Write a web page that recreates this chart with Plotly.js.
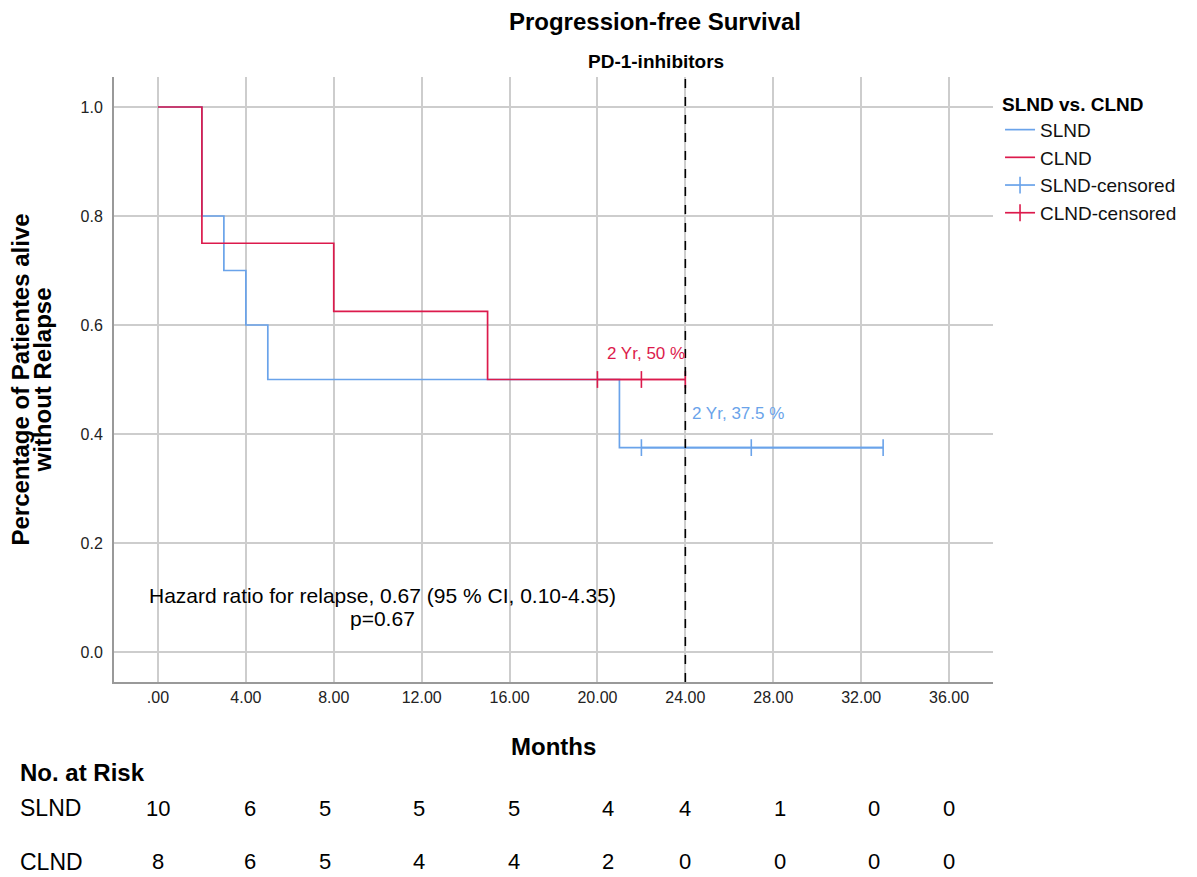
<!DOCTYPE html>
<html>
<head>
<meta charset="utf-8">
<script src="https://cdn.plot.ly/plotly-3.0.1.min.js"></script>
<style>html,body{margin:0;padding:0;background:#fff;}#chart{width:1197px;height:877px;}</style>
</head>
<body>
<div id="chart"></div>
<script>
// ---- data ----
const slndTime = [0, 2, 3, 4, 5, 21, 33];
const slndSurv = [1.0, 0.8, 0.7, 0.6, 0.5, 0.375, 0.375];
const clndTime = [0, 2, 8, 15, 24];
const clndSurv = [1.0, 0.75, 0.625, 0.5, 0.5];
const slndCensorTime = [22, 27, 33];
const slndCensorSurv = [0.375, 0.375, 0.375];
const clndCensorTime = [20, 22, 24];
const clndCensorSurv = [0.5, 0.5, 0.5];
const xTickVals = [0, 4, 8, 12, 16, 20, 24, 28, 32, 36];
const xTickText = ['.00', '4.00', '8.00', '12.00', '16.00', '20.00', '24.00', '28.00', '32.00', '36.00'];
const yTickVals = [0, 0.2, 0.4, 0.6, 0.8, 1.0];
const yTickText = ['0.0', '0.2', '0.4', '0.6', '0.8', '1.0'];
const riskSLND = [10, 6, 5, 5, 5, 4, 4, 1, 0, 0];
const riskCLND = [8, 6, 5, 4, 4, 2, 0, 0, 0, 0];
const landmarkMonth = 24;
const slnd2yr = '2 Yr, 37.5 %';
const clnd2yr = '2 Yr, 50 %';

// ---- layout helpers ----
const riskCols = [0, 4.2, 7.6, 11.9, 16.2, 20.5, 24, 28.3, 32.6, 36];
const FONT = 'Liberation Sans, Arial, sans-serif';
const BLUE = '#6aa3ea';
const RED = '#dc1a4c';

const traces = [
  {x: slndTime, y: slndSurv, name: 'SLND', mode: 'lines', line: {shape: 'hv', color: BLUE, width: 1.7}, legendgroup: 'a'},
  {x: clndTime, y: clndSurv, name: 'CLND', mode: 'lines', line: {shape: 'hv', color: RED, width: 1.7}, legendgroup: 'b'},
  {x: slndCensorTime, y: slndCensorSurv, name: 'SLND-censored', mode: 'lines+markers',
   line: {color: BLUE, width: 1.7}, marker: {symbol: 'line-ns-open', size: 12, line: {color: BLUE, width: 1.6}}, legendgroup: 'c'},
  {x: clndCensorTime, y: clndCensorSurv, name: 'CLND-censored', mode: 'lines+markers',
   line: {color: RED, width: 1.7}, marker: {symbol: 'line-ns-open', size: 12, line: {color: RED, width: 1.6}}, legendgroup: 'd'}
];

const ann = [];
function paperText(text, x, y, size, bold, opts) {
  ann.push(Object.assign({xref: 'paper', yref: 'paper', x: x, y: y, text: bold ? '<b>' + text + '</b>' : text,
    showarrow: false, font: {family: FONT, size: size, color: '#000'}, xanchor: 'center', yanchor: 'middle'}, opts || {}));
}
// subtitle
paperText('PD-1-inhibitors', 0.6166, 1.0248, 19, true);
// y title
paperText('Percentage of Patientes alive', -0.1069, 0.5, 24, true, {textangle: -90});
paperText('without Relapse', -0.0808, 0.5, 24, true, {textangle: -90});
// x title
paperText('Months', 0.5, -0.1074, 24, true);
// risk table
paperText('No. at Risk', -0.1092, -0.1488, 24, true, {xanchor: 'left'});
paperText('SLND', -0.1092, -0.2083, 23, false, {xanchor: 'left'});
paperText('CLND', -0.1092, -0.2975, 23, false, {xanchor: 'left'});
riskCols.forEach((c, i) => {
  ann.push({xref: 'x', yref: 'paper', x: c, y: -0.2083, text: String(riskSLND[i]), showarrow: false,
    font: {family: FONT, size: 22, color: '#000'}, xanchor: 'center', yanchor: 'middle'});
  ann.push({xref: 'x', yref: 'paper', x: c, y: -0.2975, text: String(riskCLND[i]), showarrow: false,
    font: {family: FONT, size: 22, color: '#000'}, xanchor: 'center', yanchor: 'middle'});
});
// 2-year labels
ann.push({xref: 'x', yref: 'y', x: 22.2, y: 0.547, text: clnd2yr, showarrow: false,
  font: {family: FONT, size: 17, color: RED}, xanchor: 'center', yanchor: 'middle'});
ann.push({xref: 'x', yref: 'y', x: 26.4, y: 0.4385, text: slnd2yr, showarrow: false,
  font: {family: FONT, size: 17, color: BLUE}, xanchor: 'center', yanchor: 'middle'});
// hazard ratio
ann.push({xref: 'x', yref: 'y', x: 10.24, y: 0.1046, text: 'Hazard ratio for relapse, 0.67 (95 % CI, 0.10-4.35)', showarrow: false,
  font: {family: FONT, size: 21, color: '#000'}, xanchor: 'center', yanchor: 'middle'});
ann.push({xref: 'x', yref: 'y', x: 10.24, y: 0.0624, text: 'p=0.67', showarrow: false,
  font: {family: FONT, size: 21, color: '#000'}, xanchor: 'center', yanchor: 'middle'});

const layout = {
  width: 1197, height: 877,
  margin: {l: 114, r: 204, t: 77, b: 195},
  paper_bgcolor: '#fff', plot_bgcolor: '#fff',
  font: {family: FONT, color: '#000'},
  title: {text: '<b>Progression-free Survival</b>', x: 0.5472, xanchor: 'center', y: 0.9749, yanchor: 'middle',
    font: {family: FONT, size: 24, color: '#000'}},
  xaxis: {range: [-2, 38], tickvals: xTickVals, ticktext: xTickText, showgrid: true, gridcolor: '#cdcdcd', gridwidth: 2,
    zeroline: false, showline: true, linecolor: '#999', linewidth: 2, ticks: '', tickfont: {family: FONT, size: 16, color: '#222'},
    fixedrange: true},
  yaxis: {range: [-0.055, 1.055], tickvals: yTickVals, ticktext: yTickText, showgrid: true, gridcolor: '#cdcdcd', gridwidth: 2,
    zeroline: false, showline: true, linecolor: '#999', linewidth: 2, ticks: '', tickfont: {family: FONT, size: 16, color: '#222'},
    ticklabelstandoff: 6, fixedrange: true},
  showlegend: true,
  legend: {x: 1.008, xanchor: 'left', y: 0.985, yanchor: 'top', bgcolor: 'rgba(0,0,0,0)', borderwidth: 0,
    title: {text: '<b>SLND vs. CLND</b>', font: {family: FONT, size: 19, color: '#000'}},
    font: {family: FONT, size: 19, color: '#111'}, tracegroupgap: 0, itemwidth: 30},
  shapes: [{type: 'line', xref: 'x', yref: 'paper', x0: landmarkMonth, x1: landmarkMonth, y0: 0, y1: 1,
    line: {color: '#000', width: 1.6, dash: 'dash'}}],
  annotations: ann
};

Plotly.newPlot('chart', traces, layout, {displayModeBar: false, staticPlot: true});
</script>
</body>
</html>
